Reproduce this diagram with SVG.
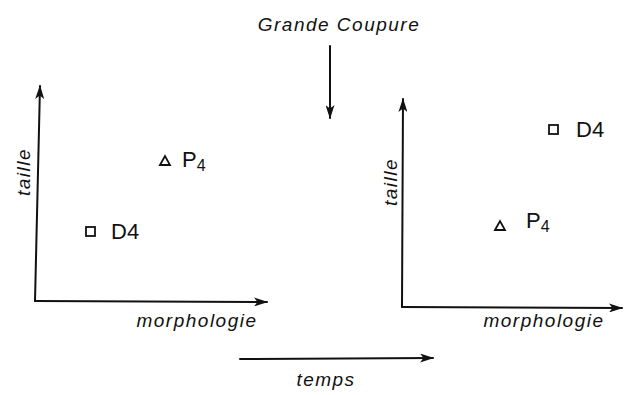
<svg xmlns="http://www.w3.org/2000/svg" width="626" height="395" viewBox="0 0 626 395">
<defs>
<marker id="ah" viewBox="0 0 14 9" refX="13" refY="4.5" markerWidth="14" markerHeight="9" markerUnits="userSpaceOnUse" orient="auto">
<path d="M0,0 L14,4.5 L0,9 L3.5,4.5 Z" fill="#111"/>
</marker>
</defs>
<style>
.ax{stroke:#111;stroke-width:2;fill:none;stroke-linecap:round}
.mk{stroke:#111;stroke-width:1.8;fill:none}
.lab{font-family:"Liberation Sans",Arial,sans-serif;font-style:italic;fill:#111;font-size:19px;letter-spacing:1.5px}
.pt{font-family:"Liberation Sans",Arial,sans-serif;fill:#111;font-size:22px}
.sub{font-size:16px}
</style>
<rect width="626" height="395" fill="#fff"/>
<g id="connectors">
<line class="ax" x1="35" y1="301" x2="40" y2="86" marker-end="url(#ah)"/>
<line class="ax" x1="35" y1="301" x2="267" y2="302" marker-end="url(#ah)"/>
<line class="ax" x1="402" y1="307" x2="403" y2="99" marker-end="url(#ah)"/>
<line class="ax" x1="402" y1="307" x2="622" y2="308" marker-end="url(#ah)"/>
<line class="ax" x1="330" y1="46" x2="330" y2="118" marker-end="url(#ah)"/>
<line class="ax" x1="240" y1="359" x2="433" y2="358" marker-end="url(#ah)"/>
</g>
<g id="title"><text class="lab" x="339" y="31" text-anchor="middle" font-size="24">Grande Coupure</text></g>
<g id="temps"><text class="lab" x="326" y="386" text-anchor="middle" letter-spacing="1">temps</text></g>
<g id="left-plot">
<text class="lab" x="0" y="0" text-anchor="middle" font-size="20" letter-spacing="1" transform="translate(30,172) rotate(-90)">taille</text>
<text class="lab" x="197" y="327" text-anchor="middle">morphologie</text>
<g id="left-P4"><path class="mk" d="M160,165 L165,156 L170,165 Z"/><text class="pt" x="182" y="167">P<tspan class="sub" dy="4">4</tspan></text></g>
<g id="left-D4"><rect class="mk" x="86" y="227" width="9" height="9"/><text class="pt" x="111" y="239">D4</text></g>
</g>
<g id="right-plot">
<text class="lab" x="0" y="0" text-anchor="middle" font-size="20" letter-spacing="1" transform="translate(397,182) rotate(-90)">taille</text>
<text class="lab" x="544" y="327" text-anchor="middle">morphologie</text>
<g id="right-D4"><rect class="mk" x="549" y="125" width="9" height="9"/><text class="pt" x="576" y="137">D4</text></g>
<g id="right-P4"><path class="mk" d="M495,230 L500,221 L505,230 Z"/><text class="pt" x="526" y="228">P<tspan class="sub" dy="4">4</tspan></text></g>
</g>
</svg>
